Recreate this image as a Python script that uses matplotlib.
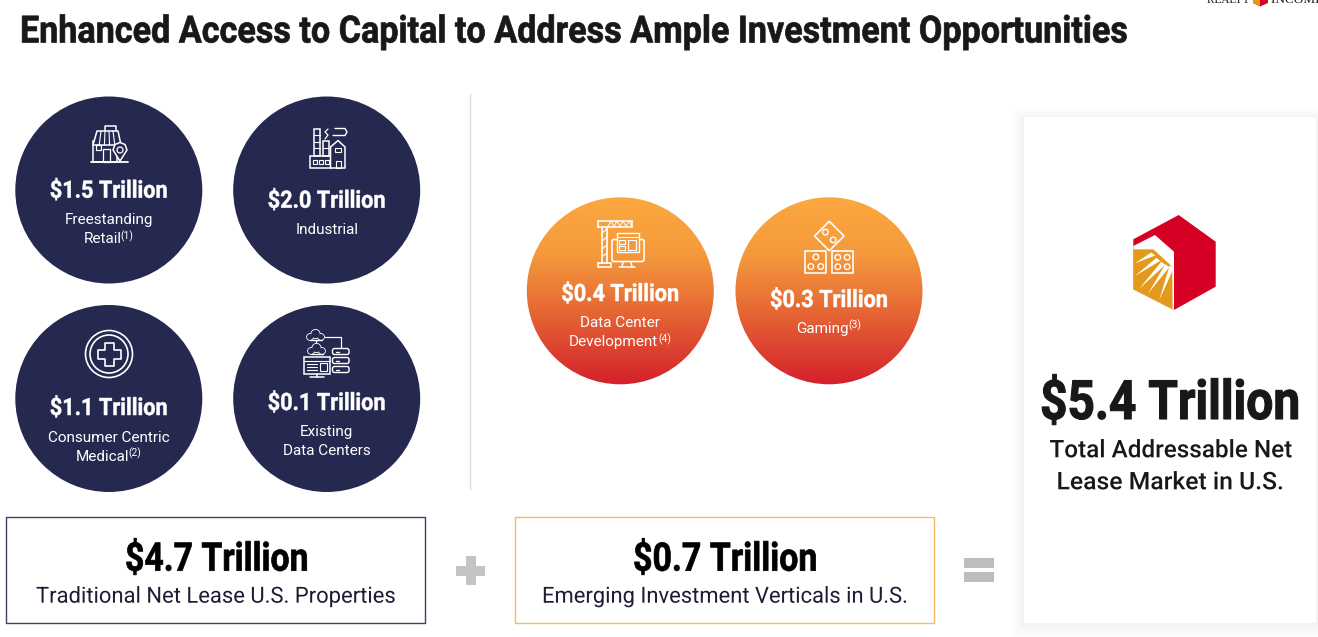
#!/usr/bin/env python3

import numpy as np
import matplotlib
matplotlib.use('Agg')
import matplotlib.pyplot as plt
from matplotlib.patches import Circle, Rectangle, Polygon, FancyBboxPatch
from matplotlib.patheffects import AbstractPathEffect
from matplotlib.transforms import Affine2D
from matplotlib.colors import LinearSegmentedColormap

W, H = 1318, 637

title = "Enhanced Access to Capital to Address Ample Investment Opportunities"

traditional_values = ["$1.5 Trillion", "$2.0 Trillion", "$1.1 Trillion", "$0.1 Trillion"]
traditional_labels = [("Freestanding", "Retail", "(1)"), ("Industrial", "", ""),
                      ("Consumer Centric", "Medical", "(2)"), ("Existing", "Data Centers", "")]
emerging_values = ["$0.4 Trillion", "$0.3 Trillion"]
emerging_labels = [("Data Center", "Development", "(4)"), ("Gaming", "", "(3)")]

traditional_total = "$4.7 Trillion"
traditional_caption = "Traditional Net Lease U.S. Properties"
emerging_total = "$0.7 Trillion"
emerging_caption = "Emerging Investment Verticals in U.S."
market_total = "$5.4 Trillion"
market_caption = ["Total Addressable Net", "Lease Market in U.S."]

NAVY = '#25284f'
INK = '#1a1718'
RED = '#d50023'
GOLD = '#e39a1c'
BODY = 'Roboto'


class Squeezed(AbstractPathEffect):
    # the page uses a condensed face, none is installed, so narrow the glyphs when drawn
    def __init__(self, sx, x0, stroke=0.0):
        super().__init__()
        self.sx = sx
        self.x0 = x0
        self.stroke = stroke

    def draw_path(self, renderer, gc, tpath, affine, rgbFace=None):
        gc0 = renderer.new_gc()
        gc0.copy_properties(gc)
        gc0.set_foreground(rgbFace)
        gc0.set_linewidth(self.stroke)
        tr = affine + Affine2D().translate(-self.x0, 0).scale(self.sx, 1).translate(self.x0, 0)
        renderer.draw_path(gc0, tpath, tr, rgbFace)
        gc0.restore()


def fit(ax, x, y, s, width, size, color='white', weight='bold', stroke=0.5, ha='center', family=BODY):
    t = ax.text(x, y, s, family=family, weight=weight, fontsize=size, color=color, ha=ha, va='baseline', zorder=5)
    w = t.get_window_extent(ax.figure.canvas.get_renderer()).width
    t.set_path_effects([Squeezed(width / w, x, stroke)])
    return t


def label_line(ax, cx, y, s, note=""):
    t = ax.text(cx, y, s, family=BODY, fontsize=11, color='white', ha='center', va='baseline', zorder=5)
    if note:
        n = ax.text(cx, y - 4, note, family=BODY, fontsize=7.5, color='white', ha='left', va='baseline', zorder=5)
        r = ax.figure.canvas.get_renderer()
        w0 = t.get_window_extent(r).width
        w1 = n.get_window_extent(r).width
        t.set_x(cx - w1 / 2)
        n.set_x(cx - w1 / 2 + w0 / 2 - 0.5)


def labels(ax, cx, y, lab):
    first, second, note = lab
    if second:
        label_line(ax, cx, y, first)
        label_line(ax, cx, y + 19, second, note)
    else:
        label_line(ax, cx, y, first, note)


def ln(ax, xs, ys, c='white', lw=1.1):
    ax.plot(xs, ys, color=c, lw=lw, solid_capstyle='round', solid_joinstyle='round', zorder=3)


def box(ax, x0, y0, x1, y1, c='white', lw=1.1, fc='none'):
    ax.add_patch(Rectangle((x0, y0), x1 - x0, y1 - y0, fc=fc, ec=c, lw=lw, zorder=3))


def poly(ax, pts, fc='none', lw=1.1):
    ax.add_patch(Polygon(pts, fc=fc, ec='white', lw=lw, joinstyle='round', zorder=3))


def icon_shop(ax):
    box(ax, 93, 141, 117, 162)
    ln(ax, [91, 128], [162, 162], lw=1.3)
    poly(ax, [(105, 126), (116, 126), (116, 132), (105, 132)])
    poly(ax, [(97, 131), (118, 131), (121, 145), (93, 145)], fc=NAVY)
    for x in (101, 105, 109, 113):
        ln(ax, [x, x + (x - 107) * 0.3], [131, 145], lw=0.8)
    box(ax, 96, 145, 101, 150, lw=0.9)
    box(ax, 103, 149, 110, 162, lw=0.9)
    poly(ax, [(113, 150), (115, 144.5), (120, 142.5), (125, 144.5), (127, 150), (120, 161)], fc=NAVY)
    ax.add_patch(Circle((120, 150), 3, fc=NAVY, ec='white', lw=0.9, zorder=3))


def icon_factory(ax):
    box(ax, 313.5, 128.5, 319.5, 155.5)
    box(ax, 323, 140.5, 329, 155.5)
    for y in (135, 142, 148):
        ln(ax, [313.5, 319.5], [y, y], lw=0.8)
    ln(ax, [323, 329], [148, 148], lw=0.8)
    box(ax, 309.5, 155.5, 330.5, 168)
    for x in (312.5, 318.5, 324.5):
        box(ax, x, 160, x + 4, 164, lw=0.8)
    poly(ax, [(330.5, 168), (330.5, 147), (338, 140.5), (345, 147), (345, 168)], fc=NAVY)
    box(ax, 335, 148, 341, 152, lw=0.8)
    box(ax, 335.5, 161, 340.5, 168, lw=0.8)
    ln(ax, [335, 345, 347, 345, 333], [128.5, 128.5, 132, 135.5, 135.5], lw=1)
    ln(ax, [325, 328, 325, 328], [139, 135, 132, 129], lw=0.9)


def icon_medical(ax):
    ax.add_patch(Circle((109, 354), 23.5, fc='none', ec='white', lw=1.2, zorder=3))
    ax.add_patch(Circle((109, 354), 19, fc='none', ec='white', lw=1.2, zorder=3))
    a, b = 4.5, 11.5
    pts = [(-a, -b), (a, -b), (a, -a), (b, -a), (b, a), (a, a), (a, b), (-a, b), (-a, a), (-b, a), (-b, -a), (-a, -a)]
    poly(ax, [(109 + p, 354 + q) for p, q in pts], lw=1.2)


def cloud(ax, x, y):
    puffs = [(x, y - 2, 4.2), (x - 5.5, y + 1, 3), (x + 5.5, y + 1, 3)]
    for px, py, r in puffs:
        ax.add_patch(Circle((px, py), r, fc='white', ec='white', lw=1.2, zorder=3))
    for px, py, r in puffs:
        ax.add_patch(Circle((px, py), r, fc=NAVY, ec='none', zorder=3))
    ln(ax, [x - 6, x + 6], [y + 4, y + 4], lw=1)


def icon_servers(ax):
    ln(ax, [316, 316], [340, 346], lw=0.9)
    cloud(ax, 315.5, 336)
    cloud(ax, 316.5, 350)
    ln(ax, [325, 341, 341], [337, 337, 348], lw=0.9)
    for y in (348.5, 357.5, 366.5):
        ax.add_patch(FancyBboxPatch((332.5, y), 16.5, 6, boxstyle='round,pad=0,rounding_size=2',
                                    fc=NAVY, ec='white', lw=1, zorder=3))
        ln(ax, [335.5, 339], [y + 3, y + 3], lw=1)
    box(ax, 303.5, 357, 330, 374)
    ln(ax, [303.5, 330], [361, 361], lw=0.8)
    box(ax, 320, 363, 327, 371, lw=0.8)
    for y in (364, 367, 370):
        ln(ax, [307, 317], [y, y], lw=0.8)
    ln(ax, [317, 317], [374, 377])
    ln(ax, [310, 324], [377, 377])


def icon_crane(ax):
    box(ax, 597.5, 221, 631.5, 226.5, lw=1.2)
    ln(ax, [602, 602], [226.5, 263], lw=1.2)
    ln(ax, [607, 607], [226.5, 263], lw=1.2)
    for y in (233, 241, 249, 257):
        ln(ax, [602, 607], [y, y - 4], lw=0.8)
    box(ax, 597.5, 263, 610.5, 267, lw=1.2)
    for x in (608, 614, 620, 626):
        ln(ax, [x, x + 3, x + 6], [226.5, 221, 226.5], lw=0.7)
    ax.add_patch(FancyBboxPatch((612, 239.5), 32, 22, boxstyle='round,pad=0,rounding_size=2',
                                fc='none', ec='white', lw=1.2, zorder=3))
    ln(ax, [623, 622], [262, 267])
    ln(ax, [631, 632], [262, 267])
    ln(ax, [619, 635], [267, 267])
    ax.add_patch(Rectangle((616.5, 233), 22.5, 19, fc='#f69b3b', ec='white', lw=1, zorder=3))
    ln(ax, [616.5, 639], [237, 237], lw=0.8)
    box(ax, 619, 240, 625, 244, lw=0.8)
    box(ax, 619, 246, 625, 250, lw=0.8)
    box(ax, 628, 240, 636, 250, lw=0.8)


def die(ax, cx, cy, half, spots, angle=0):
    t = np.deg2rad(angle)
    rot = np.array([[np.cos(t), -np.sin(t)], [np.sin(t), np.cos(t)]])
    corner = np.array([[-half, -half], [half, -half], [half, half], [-half, half]])
    poly(ax, corner @ rot.T + [cx, cy], lw=1.2)
    for sx, sy in spots:
        p = rot @ np.array([sx, sy])
        ax.add_patch(Circle((cx + p[0], cy + p[1]), 2.8, fc='none', ec='white', lw=1, zorder=3))


def icon_dice(ax):
    die(ax, 829.3, 236, 10.4, [(-5.5, 0), (5.5, 0)], 45)
    die(ax, 815.8, 262, 10.6, [(0, -5), (-5, 4.5), (5, 4.5)])
    die(ax, 842.5, 262, 10.6, [(-4.7, -4.7), (4.7, -4.7), (-4.7, 4.7), (4.7, 4.7)])


def draw_logo(ax):
    hexagon = [(1178.7, 215), (1215.7, 241.7), (1215.7, 286.7), (1174, 310), (1133.3, 289.3), (1133.3, 239.3)]
    ax.add_patch(Polygon(hexagon, fc=RED, ec='none', zorder=3))
    ax.add_patch(Polygon([(1133.3, 246), (1155, 235), (1174, 251.7), (1174, 310), (1133.3, 289.3)],
                         fc='white', ec='none', zorder=3))
    ax.add_patch(Polygon([(1133.3, 249.3), (1153.3, 249.3), (1172.3, 266.7), (1172.6, 309.3), (1133.3, 289.3)],
                         fc=GOLD, ec='none', zorder=3))
    tips = [(1135, 263.3), (1135, 276), (1139.3, 288.7), (1148.3, 293.3), (1159.3, 300)]
    bases = [(1153.3, 254), (1158.3, 259.3), (1163.3, 263.3), (1167.3, 265.7), (1171.7, 266.7)]
    for (tx, ty), (bx, by) in zip(tips, bases):
        ax.add_patch(Polygon([(tx, ty), (bx - 2.0, by - 1.5), (bx + 2.0, by + 1.5)], fc='white', ec='none', zorder=3))


def main():
    fig = plt.figure(figsize=(W / 100, H / 100), dpi=100)
    ax = fig.add_axes([0, 0, 1, 1])
    ax.set_xlim(0, W)
    ax.set_ylim(H, 0)
    ax.axis('off')

    fit(ax, 20, 42.5, title, 1109, 27, INK, stroke=0.5, ha='left')

    # small header logo, cut off by the page edge
    fit(ax, 1207, 3, "REALTY", 43, 8.5, INK, weight='normal', stroke=0, ha='left', family='Liberation Serif')
    fit(ax, 1271, 3, "INCOME", 52, 8.5, INK, weight='normal', stroke=0, ha='left', family='Liberation Serif')
    ax.add_patch(Polygon([(1253, 0), (1268, 0), (1268, 3), (1260, 6.5), (1253, 3)], fc=RED, ec='none'))
    ax.add_patch(Polygon([(1253, 0), (1260, 0), (1260, 6.5), (1253, 3)], fc=GOLD, ec='none'))

    ax.plot([470, 470], [94, 489], color='#dcdcdc', lw=1)

    centers = [(108.8, 190), (326.7, 190), (108.8, 398.5), (326.7, 398.5)]
    head_y = [197.7, 207.7, 415, 410]
    lab_y = [224, 234, 441.7, 436]
    for (cx, cy), val, lab, hy, ly in zip(centers, traditional_values, traditional_labels, head_y, lab_y):
        ax.add_patch(Circle((cx, cy), 93.5, fc=NAVY, ec='none', zorder=1))
        fit(ax, cx, hy, val, 118, 17.2, stroke=0.35)
        labels(ax, cx, ly, lab)
    icon_shop(ax)
    icon_factory(ax)
    icon_medical(ax)
    icon_servers(ax)

    cmap = LinearSegmentedColormap.from_list(
        'sunset', [(0, '#fca840'), (0.3, '#f59a3c'), (0.55, '#e87236'), (0.8, '#dd4431'), (1, '#d5202c')])
    grad = np.linspace(0, 1, 256).reshape(-1, 1)
    e_centers = [(620.3, 290.8), (829, 290.8)]
    e_head_y = [301, 307]
    e_lab_y = [327.3, 332.7]
    for (cx, cy), val, lab, hy, ly in zip(e_centers, emerging_values, emerging_labels, e_head_y, e_lab_y):
        im = ax.imshow(grad, cmap=cmap, extent=(cx - 94, cx + 94, cy + 94, cy - 94), aspect='auto', zorder=1)
        im.set_clip_path(Circle((cx, cy), 93.5, transform=ax.transData))
        fit(ax, cx, hy, val, 118, 17.2, stroke=0.35)
        labels(ax, cx, ly, lab)
    ax.set_xlim(0, W)
    ax.set_ylim(H, 0)
    icon_crane(ax)
    icon_dice(ax)

    # bottom summary boxes
    ax.add_patch(Rectangle((6, 517), 419, 106, fc='white', ec='#3c3f68', lw=1))
    fit(ax, 216.5, 570.7, traditional_total, 183, 28.4, '#000000', stroke=0.5)
    fit(ax, 216, 602.7, traditional_caption, 360, 16, '#1c1c34', weight='normal', stroke=0)
    ax.add_patch(Rectangle((515, 517), 419, 106, fc='white', ec='#f7b869', lw=1))
    fit(ax, 725, 570.7, emerging_total, 184, 28.4, '#000000', stroke=0.5)
    fit(ax, 725, 602.7, emerging_caption, 366, 16, '#1c1c34', weight='normal', stroke=0)

    # plus and equals signs
    ax.add_patch(Rectangle((456, 565.7), 29, 10, fc='#c4c4c4', ec='none'))
    ax.add_patch(Rectangle((466, 556), 9.7, 29, fc='#c4c4c4', ec='none'))
    ax.add_patch(Rectangle((964.3, 558.3), 29.7, 10, fc='#bdbdbd', ec='none'))
    ax.add_patch(Rectangle((964.3, 572.3), 29.7, 10, fc='#bdbdbd', ec='none'))

    # result card with a soft shadow
    for grow in range(12, 0, -1):
        ax.add_patch(Rectangle((1024 - grow, 117 - grow + 2), 292 + 2 * grow, 506 + 2 * grow,
                               fc='black', ec='none', alpha=0.0035, zorder=1))
    ax.add_patch(Rectangle((1024, 117), 291.7, 505.7, fc='white', ec='none', zorder=2))
    draw_logo(ax)
    fit(ax, 1170, 419, market_total, 260, 39, INK, stroke=0.8)
    fit(ax, 1170.5, 457.3, market_caption[0], 242, 17.5, INK, weight=500, stroke=0)
    fit(ax, 1170, 489.3, market_caption[1], 227, 17.5, INK, weight=500, stroke=0)

    fig.savefig('out.png', dpi=100)


if __name__ == '__main__':
    main()
